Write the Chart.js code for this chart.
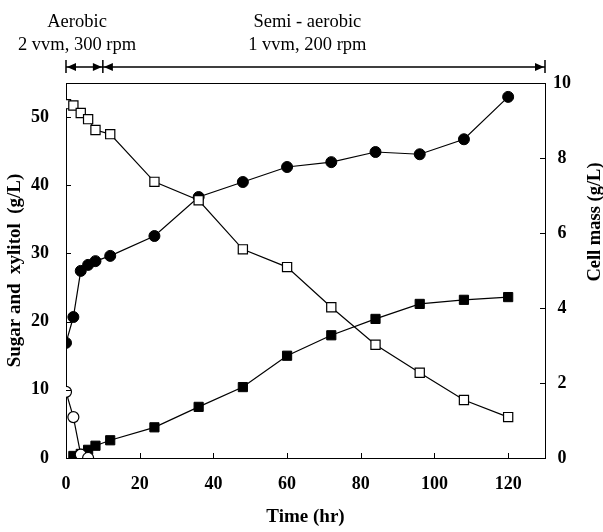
<!DOCTYPE html>
<html>
<head>
<meta charset="utf-8">
<script src="https://cdn.jsdelivr.net/npm/chart.js@4.4.0/dist/chart.umd.min.js"></script>
<style>
  html, body { margin: 0; padding: 0; background: #fff; }
  #wrap { width: 603px; height: 532px; position: relative; }
</style>
</head>
<body>
<div id="wrap"><canvas id="chart"></canvas></div>
<script>
// sampling times (hr)
const time = [0, 2, 4, 6, 8, 12, 24, 36, 48, 60, 72, 84, 96, 108, 120];
// sugar (g/L) - open squares, left axis
const sugar = [51.9, 51.7, 50.6, 49.7, 48.1, 47.5, 40.5, 37.8, 30.6, 28.0, 22.1, 16.6, 12.5, 8.5, 6.0];
// cell mass (g/L) - filled circles, right axis
const cellMass = [3.07, 3.76, 4.99, 5.15, 5.25, 5.39, 5.92, 6.96, 7.36, 7.76, 7.89, 8.16, 8.10, 8.50, 9.63];
// xylitol (g/L) - filled squares, left axis
const xylitolTime = [2, 4, 6, 8, 12, 24, 36, 48, 60, 72, 84, 96, 108, 120];
const xylitol = [0.3, 0.6, 1.2, 1.8, 2.6, 4.5, 7.5, 10.4, 15.0, 18.0, 20.4, 22.6, 23.2, 23.6];
// glucose (g/L) - open circles, left axis
const glucoseTime = [0, 2, 4, 6];
const glucose = [9.7, 6.0, 0.5, 0];

// aeration phases
const phaseBounds = [0, 10, 130];
const phaseNames = ['Aerobic', 'Semi - aerobic'];
const phaseConds = ['2 vvm, 300 rpm', '1 vvm, 200 rpm'];

const pts = (xs, ys) => xs.map((x, i) => ({ x: x, y: ys[i] }));

const serif = "'Liberation Serif', 'Times New Roman', serif";

// inside tick marks, top frame, phase arrows, right title
const extras = {
  id: 'extras',
  afterDraw(chart) {
    const ctx = chart.ctx;
    const a = chart.chartArea;
    const x = chart.scales.x, y = chart.scales.y, y1 = chart.scales.y1;
    ctx.save();
    ctx.strokeStyle = '#000';
    ctx.fillStyle = '#000';
    ctx.lineWidth = 1;

    // frame top
    ctx.beginPath();
    ctx.moveTo(a.left, a.top + 0.5);
    ctx.lineTo(a.right, a.top + 0.5);
    ctx.stroke();

    // tick marks pointing inward
    ctx.beginPath();
    x.ticks.forEach(t => {
      const px = Math.round(x.getPixelForValue(t.value)) + 0.5;
      ctx.moveTo(px, a.bottom); ctx.lineTo(px, a.bottom - 5);
    });
    y.ticks.forEach(t => {
      const py = Math.round(y.getPixelForValue(t.value)) + 0.5;
      ctx.moveTo(a.left, py); ctx.lineTo(a.left + 5, py);
    });
    y1.ticks.forEach(t => {
      const py = Math.round(y1.getPixelForValue(t.value)) + 0.5;
      ctx.moveTo(a.right, py); ctx.lineTo(a.right - 5, py);
    });
    ctx.stroke();

    // phase arrows
    const ay = 67;
    const bx = phaseBounds.map(v => x.getPixelForValue(v));
    ctx.lineWidth = 1.5;
    ctx.beginPath();
    bx.forEach(px => { ctx.moveTo(px, ay - 7); ctx.lineTo(px, ay + 6); });
    ctx.moveTo(bx[0], ay); ctx.lineTo(bx[bx.length - 1], ay);
    ctx.stroke();
    const head = (px, dir) => {
      ctx.beginPath();
      ctx.moveTo(px, ay);
      ctx.lineTo(px - dir * 9, ay - 4);
      ctx.lineTo(px - dir * 9, ay + 4);
      ctx.closePath();
      ctx.fill();
    };
    for (let i = 0; i < bx.length - 1; i++) {
      head(bx[i] + 1, -1);
      head(bx[i + 1] - 1, 1);
    }

    // phase labels
    ctx.font = '18.5px ' + serif;
    ctx.textAlign = 'center';
    ctx.textBaseline = 'middle';
    const centers = [x.getPixelForValue(3), x.getPixelForValue(65.5)];
    phaseNames.forEach((n, i) => {
      ctx.fillText(n, centers[i], 22);
      ctx.fillText(phaseConds[i], centers[i], 45);
    });

    // right axis title (reads bottom to top)
    ctx.font = 'bold 18.5px ' + serif;
    ctx.translate(595, 222);
    ctx.rotate(-Math.PI / 2);
    ctx.fillText('Cell mass (g/L)', 0, 0);
    ctx.restore();
  }
};

const tickFont = { family: serif, size: 18, weight: 'bold' };
const titleFont = { family: serif, size: 19, weight: 'bold' };

new Chart(document.getElementById('chart'), {
  type: 'line',
  data: {
    datasets: [
      {
        label: 'Sugar',
        data: pts(time, sugar),
        yAxisID: 'y',
        borderColor: '#000', borderWidth: 1.2,
        pointStyle: 'rect', pointRadius: 6.5,
        pointBackgroundColor: '#fff', pointBorderColor: '#000', pointBorderWidth: 1.2
      },
      {
        label: 'Glucose',
        data: pts(glucoseTime, glucose),
        yAxisID: 'y',
        borderColor: '#000', borderWidth: 1.2,
        pointStyle: 'circle', pointRadius: 5.5,
        pointBackgroundColor: '#fff', pointBorderColor: '#000', pointBorderWidth: 1.2
      },
      {
        label: 'Xylitol',
        data: pts(xylitolTime, xylitol),
        yAxisID: 'y',
        borderColor: '#000', borderWidth: 1.2,
        pointStyle: 'rect', pointRadius: 6.5,
        pointBackgroundColor: '#000', pointBorderColor: '#000', pointBorderWidth: 1
      },
      {
        label: 'Cell mass',
        data: pts(time, cellMass),
        yAxisID: 'y1',
        borderColor: '#000', borderWidth: 1.2,
        pointStyle: 'circle', pointRadius: 5.5,
        pointBackgroundColor: '#000', pointBorderColor: '#000', pointBorderWidth: 1
      }
    ]
  },
  options: {
    responsive: true,
    maintainAspectRatio: false,
    animation: false,
    layout: { padding: { top: 83, left: 0, right: 0, bottom: 0 } },
    plugins: {
      legend: { display: false },
      tooltip: { enabled: false }
    },
    scales: {
      x: {
        type: 'linear',
        min: 0, max: 130,
        grid: { display: false },
        border: { display: true, color: '#000', width: 1 },
        ticks: { stepSize: 20, includeBounds: false, color: '#000', font: tickFont, padding: 8, maxRotation: 0 },
        title: { display: true, text: 'Time (hr)', color: '#000', font: titleFont, padding: { top: 0, bottom: 4 } },
        afterFit(s) { s.height = 74; }
      },
      y: {
        position: 'left',
        min: 0, max: 55,
        grid: { display: false },
        border: { display: true, color: '#000', width: 1 },
        ticks: { stepSize: 10, includeBounds: false, color: '#000', font: tickFont, padding: 9 },
        title: { display: true, text: 'Sugar and  xylitol  (g/L)', color: '#000', font: titleFont, padding: { top: 4, bottom: 0 } },
        afterFit(s) { s.width = 66; }
      },
      y1: {
        position: 'right',
        min: 0, max: 10,
        grid: { display: false },
        border: { display: true, color: '#000', width: 1 },
        ticks: { stepSize: 2, includeBounds: false, color: '#000', font: tickFont, padding: 0, crossAlign: 'center' },
        afterFit(s) { s.width = 58; }
      }
    }
  },
  plugins: [extras]
});
</script>
</body>
</html>
